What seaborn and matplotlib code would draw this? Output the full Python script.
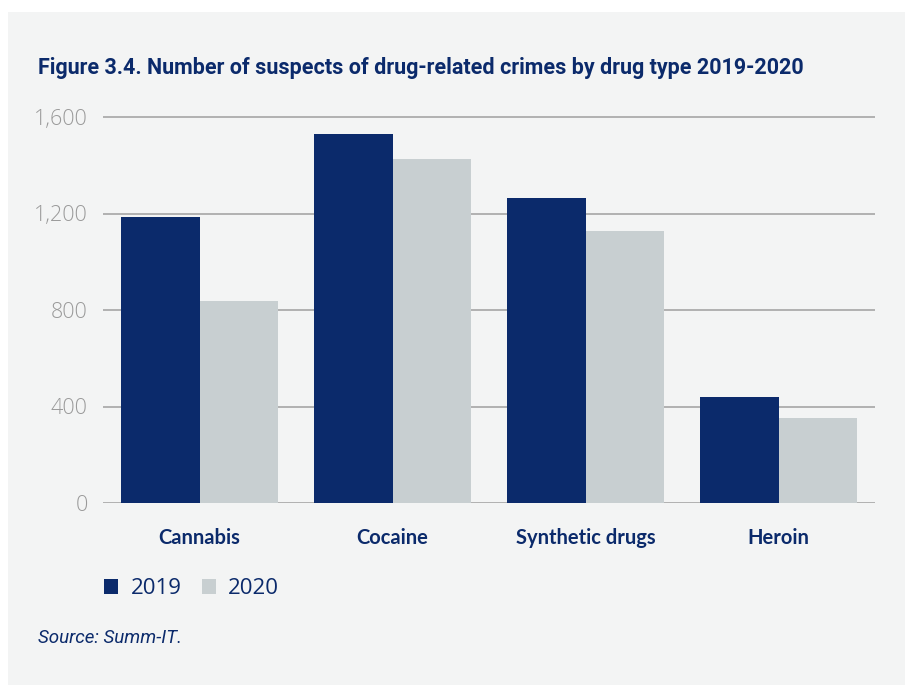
import matplotlib
matplotlib.use("Agg")
import matplotlib.pyplot as plt
import matplotlib.patches as mpatches
import pandas as pd
import seaborn as sns

# Data
drug_types = ["Cannabis", "Cocaine", "Synthetic drugs", "Heroin"]
years = ["2019", "2020"]
suspects_2019 = [1185, 1529, 1264, 439]
suspects_2020 = [837, 1426, 1127, 352]
y_ticks = [0, 400, 800, 1200, 1600]
y_tick_labels = ["0", "400", "800", "1,200", "1,600"]

NAVY = "#0b2a6b"
LIGHT = "#c8cfd1"
PANEL = "#f3f4f4"
GRID = "#ababab"
TICK_GRAY = "#9a9a9a"

df = pd.DataFrame({
    "drug": drug_types * 2,
    "year": [years[0]] * len(drug_types) + [years[1]] * len(drug_types),
    "suspects": suspects_2019 + suspects_2020,
})

sns.set_theme(style="white")
plt.rcParams["font.family"] = ["Lato", "DejaVu Sans"]

W, H = 905, 685
fig = plt.figure(figsize=(W / 100, H / 100), dpi=100)
fig.patch.set_facecolor("white")

# light panel behind the whole figure content
fig.patches.append(mpatches.Rectangle((8 / W, 0), 1 - 8 / W, 1 - 12 / H,
                                      transform=fig.transFigure,
                                      facecolor=PANEL, edgecolor="none", zorder=-10))

ymax = 1610
px_per_unit = (503 - 117) / 1600
ax_top_px = 503 - ymax * px_per_unit
ax_left, ax_right = 103, 875
ax = fig.add_axes([ax_left / W, (H - 503) / H, (ax_right - ax_left) / W, (503 - ax_top_px) / H])
ax.set_facecolor("none")

sns.barplot(data=df, x="drug", y="suspects", hue="year", order=drug_types,
            hue_order=years, palette=[NAVY, LIGHT], saturation=1,
            width=0.81, gap=0, ax=ax, legend=False, zorder=3,
            linewidth=0, edgecolor="none")

ax.set_xlim(-0.5, 3.5)
ax.set_ylim(0, ymax)
ax.set_yticks(y_ticks)
ax.set_yticklabels(y_tick_labels)
for y in y_ticks:
    ax.axhline(y, color=GRID, lw=1.3, zorder=1)

for s in ax.spines.values():
    s.set_visible(False)
ax.tick_params(axis="y", length=0, pad=11, labelsize=15.5, labelcolor=TICK_GRAY)
ax.tick_params(axis="x", length=0, pad=18, labelsize=14.5, labelcolor=NAVY)
for lab in ax.get_yticklabels():
    lab.set_fontfamily(["Open Sans", "DejaVu Sans"])
    lab.set_fontweight("light")
for lab in ax.get_xticklabels():
    lab.set_fontweight("bold")
ax.set_xlabel("")
ax.set_ylabel("")

fig.text(38 / W, 1 - 68 / H,
         "Figure 3.4. Number of suspects of drug-related crimes by drug type 2019-2020",
         fontsize=15.5, fontweight="bold", color=NAVY, va="center", ha="left",
         family=["Liberation Sans Narrow", "Roboto", "DejaVu Sans"])

handles = [mpatches.Patch(facecolor=NAVY, edgecolor="none", label=years[0]),
           mpatches.Patch(facecolor=LIGHT, edgecolor="none", label=years[1])]
fig.legend(handles=handles, loc="center left", bbox_to_anchor=(84 / W, 1 - 589 / H),
           ncol=2, frameon=False, handlelength=0.65, handleheight=0.65,
           handletextpad=0.55, columnspacing=0.9,
           prop={"family": ["Open Sans", "DejaVu Sans"], "size": 16},
           labelcolor=NAVY)

fig.text(38 / W, 1 - 638 / H, "Source: Summ-IT.", fontsize=13.5, style="italic",
         color=NAVY, va="center", ha="left",
         family=["Liberation Sans Narrow", "Roboto", "DejaVu Sans"])

fig.savefig("out.png", dpi=100, facecolor=fig.get_facecolor())
